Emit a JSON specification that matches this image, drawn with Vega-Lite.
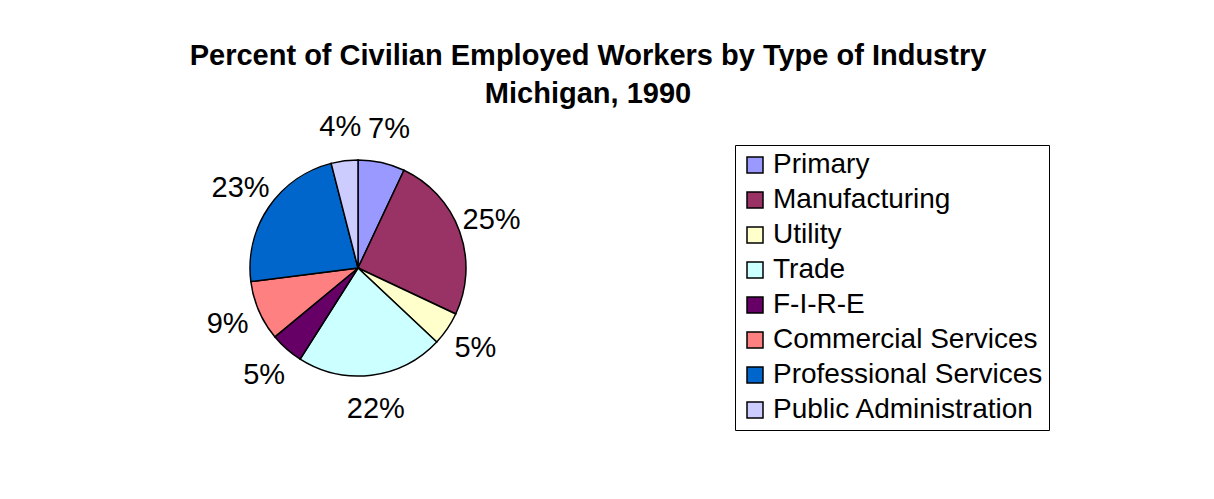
{
  "$schema": "https://vega.github.io/schema/vega-lite/v6.json",
  "autosize": "none",
  "width": 716,
  "height": 462,
  "padding": {"left": 0, "top": 37, "right": 498, "bottom": 0},
  "background": "white",
  "title": {
    "text": ["Percent of Civilian Employed Workers by Type of Industry", "Michigan, 1990"],
    "font": "Liberation Sans",
    "fontSize": 29,
    "fontWeight": "bold",
    "color": "black",
    "anchor": "middle",
    "frame": "group",
    "lineHeight": 38,
    "dx": 230,
    "dy": 76
  },
  "data": {
    "values": [
      {"industry": "Primary", "share": 0.07, "idx": 1},
      {"industry": "Manufacturing", "share": 0.25, "idx": 2},
      {"industry": "Utility", "share": 0.05, "idx": 3},
      {"industry": "Trade", "share": 0.22, "idx": 4},
      {"industry": "F-I-R-E", "share": 0.05, "idx": 5},
      {"industry": "Commercial Services", "share": 0.09, "idx": 6},
      {"industry": "Professional Services", "share": 0.23, "idx": 7},
      {"industry": "Public Administration", "share": 0.04, "idx": 8}
    ]
  },
  "encoding": {
    "theta": {"field": "share", "type": "quantitative", "stack": true},
    "order": {"field": "idx", "type": "quantitative"}
  },
  "layer": [
    {
      "mark": {"type": "arc", "outerRadius": 108, "stroke": "black", "strokeWidth": 1.5},
      "encoding": {
        "color": {
          "field": "industry",
          "type": "nominal",
          "scale": {
            "domain": ["Primary", "Manufacturing", "Utility", "Trade", "F-I-R-E", "Commercial Services", "Professional Services", "Public Administration"],
            "range": ["#9999FF", "#993366", "#FFFFCC", "#CCFFFF", "#660066", "#FF8080", "#0066CC", "#CCCCFF"]
          },
          "legend": {
            "title": null,
            "orient": "none",
            "legendX": 735,
            "legendY": 108,
            "strokeColor": "black",
            "fillColor": "white",
            "padding": 6,
            "symbolType": "square",
            "symbolSize": 256,
            "symbolStrokeColor": "black",
            "symbolStrokeWidth": 1.5,
            "symbolOpacity": 1,
            "labelFont": "Liberation Sans",
            "labelFontSize": 28,
            "labelColor": "black",
            "labelLimit": 400,
            "labelOffset": 4,
            "rowPadding": 7
          }
        }
      }
    },
    {
      "mark": {"type": "text", "radius": 142, "font": "Liberation Sans", "fontSize": 29, "color": "black"},
      "encoding": {
        "text": {"field": "share", "type": "quantitative", "format": ".0%"}
      }
    }
  ]
}
